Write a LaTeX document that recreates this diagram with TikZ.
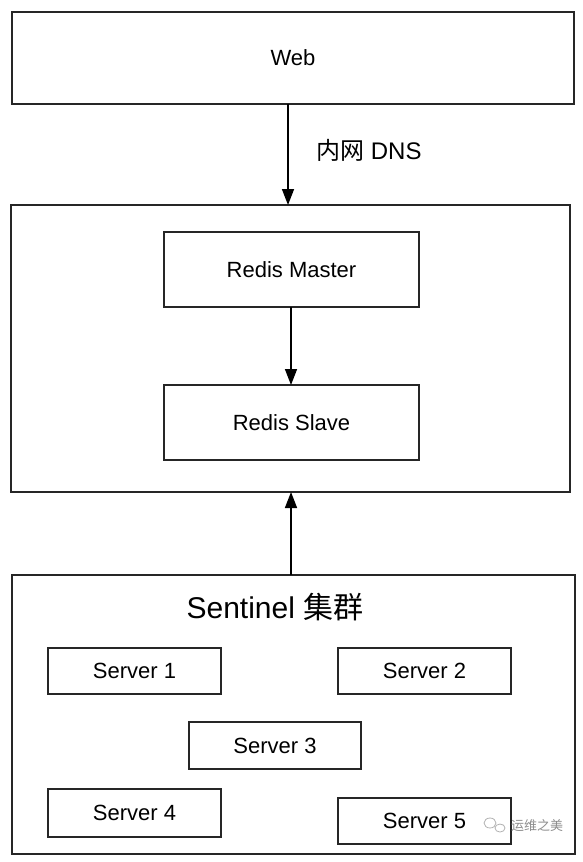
\documentclass[tikz,border=0pt]{standalone}
\usepackage{fontspec}
\setmainfont{Liberation Sans}
\newfontfamily\cjk{Noto Sans CJK SC}
\usetikzlibrary{arrows.meta}
\begin{document}
\begin{tikzpicture}[x=1pt,y=-1pt,
  box/.style={draw=black!85,line width=1.4pt,inner sep=0pt,outer sep=0pt,font=\fontsize{22}{26}\selectfont},
  conn/.style={draw=black,line width=1.5pt,-{Triangle[width=12pt,length=16pt]}}]
\useasboundingbox (0,0) rectangle (582,862);
\fill[white] (0,0) rectangle (582,862);
% main boxes
\node[box,minimum width=562pt,minimum height=92pt] (web) at (293,58) {Web};
\node[box,minimum width=559pt,minimum height=287pt] (redis) at (290.5,348.5) {};
\node[box,minimum width=563pt,minimum height=279pt] (sent) at (293.5,714.5) {};
\node[box,minimum width=255pt,minimum height=75pt] (master) at (291.5,269.5) {Redis Master};
\node[box,minimum width=255pt,minimum height=75pt] (slave) at (291.5,422.5) {Redis Slave};
% sentinel cluster
\node[font=\fontsize{30}{34}\selectfont] (title) at (275,607) {Sentinel {\cjk 集群}};
\node[box,minimum width=173pt,minimum height=46pt] (s1) at (134.5,671) {Server 1};
\node[box,minimum width=173pt,minimum height=46pt] (s2) at (424.5,671) {Server 2};
\node[box,minimum width=172pt,minimum height=47pt] (s3) at (275,745.5) {Server 3};
\node[box,minimum width=173pt,minimum height=48pt] (s4) at (134.5,813) {Server 4};
\node[box,minimum width=173pt,minimum height=46pt] (s5) at (424.5,821) {Server 5};
% connectors
\draw[conn] (web.south -| 288,0) -- (redis.north -| 288,0);
\node[font=\fontsize{24}{28}\selectfont,anchor=west,inner sep=0pt] (dns) at (316,150) {{\cjk 内网} DNS};
\draw[conn] (master.south -| 291,0) -- (slave.north -| 291,0);
\draw[conn] (sent.north -| 291,0) -- (redis.south -| 291,0);
% watermark
\node[font=\fontsize{13}{16}\selectfont\cjk,text=black!45,anchor=west,inner sep=0pt] (wm) at (511,826) {运维之美};
\draw[black!30,line width=0.8pt] (490,823) ellipse (6pt and 5pt);
\draw[black!30,line width=0.8pt] (500,828) ellipse (5pt and 4pt);
\end{tikzpicture}
\end{document}
